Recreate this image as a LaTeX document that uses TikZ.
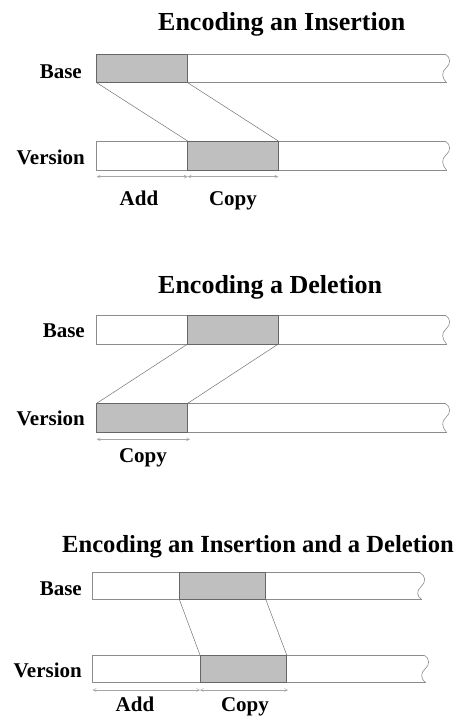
\documentclass[tikz,border=0pt]{standalone}
\usepackage{fontspec}
\setmainfont{Liberation Serif}
\usetikzlibrary{arrows.meta}
\begin{document}
\begin{tikzpicture}[x=1pt,y=-1pt,
  titlelbl/.style={font=\bfseries\fontsize{26}{30}\selectfont, anchor=base west, inner sep=0pt},
  longtitle/.style={font=\bfseries\fontsize{24.6}{29}\selectfont, anchor=base west, inner sep=0pt},
  rowlbl/.style={font=\bfseries\fontsize{21}{25}\selectfont, anchor=base east, inner sep=0pt},
  spanlbl/.style={font=\bfseries\fontsize{21}{25}\selectfont, anchor=base, inner sep=0pt},
  barline/.style={draw=black!45, line width=0.6pt},
  grayblock/.style={fill=black!25, draw=black!60, line width=0.6pt},
  mapline/.style={draw=black!55, line width=0.5pt},
  span/.style={draw=black!35, line width=0.5pt, {Straight Barb[length=3pt,width=3pt]}-{Straight Barb[length=3pt,width=3pt]}}
]
\useasboundingbox (0,0) rectangle (460,716);

% bar: #1 left x, #2 top y, #3 bottom y, #4 right x
\newcommand{\mybar}[4]{%
  \draw[barline] (#4,#2) -- (#1,#2) -- (#1,#3) -- (#4+1.5,#3);
  \draw[barline] (#4,#2) .. controls (#4+6,#2+3) and (#4+6,#2+10) .. (#4+1,#2+14)
     .. controls (#4-4,#2+18) and (#4-3,#2+24) .. (#4+1.5,#3);
}

%% ---------- Panel 1 ----------
\node[titlelbl] (t1) at (158,30) {Encoding an Insertion};
\node[rowlbl] (b1) at (82,78) {Base};
\node[rowlbl] (v1) at (85,164) {Version};
\mybar{96.7}{54}{82.7}{445}
\mybar{96.7}{141}{170}{445}
\filldraw[grayblock] (96.7,54) rectangle (187.7,82.7);
\filldraw[grayblock] (187.7,141) rectangle (278.3,170);
\coordinate (b1a) at (96.7,82.7);
\coordinate (b1b) at (187.7,82.7);
\coordinate (v1a) at (187.7,141);
\coordinate (v1b) at (278.3,141);
\draw[mapline] (b1a) -- (v1a);
\draw[mapline] (b1b) -- (v1b);
\coordinate (s1a) at (96.7,176.7);
\coordinate (s1b) at (187.7,176.7);
\coordinate (s1c) at (278.3,176.7);
\draw[span] (s1a) -- (s1b);
\draw[span] (s1b) -- (s1c);
\node[spanlbl] (add1) at (139,205) {Add};
\node[spanlbl] (copy1) at (233,205) {Copy};

%% ---------- Panel 2 ----------
\node[titlelbl] (t2) at (158,293) {Encoding a Deletion};
\node[rowlbl] (b2) at (85,337) {Base};
\node[rowlbl] (v2) at (85,425) {Version};
\mybar{96.7}{315}{344}{445}
\mybar{96.7}{403.3}{432.3}{445}
\filldraw[grayblock] (187.7,315) rectangle (278.3,344);
\filldraw[grayblock] (96.7,403.3) rectangle (187.7,432.3);
\coordinate (b2a) at (187.7,344);
\coordinate (b2b) at (278.3,344);
\coordinate (v2a) at (96.7,403.3);
\coordinate (v2b) at (187.7,403.3);
\draw[mapline] (b2a) -- (v2a);
\draw[mapline] (b2b) -- (v2b);
\coordinate (s2a) at (96.7,439.3);
\coordinate (s2b) at (190,439.3);
\draw[span] (s2a) -- (s2b);
\node[spanlbl] (copy2) at (143,462) {Copy};

%% ---------- Panel 3 ----------
\node[longtitle] (t3) at (62,552) {Encoding an Insertion and a Deletion};
\node[rowlbl] (b3) at (82,595) {Base};
\node[rowlbl] (v3) at (82,677) {Version};
\mybar{92.7}{572.7}{599.3}{420}
\mybar{92.7}{655}{682.7}{424}
\filldraw[grayblock] (179.3,572.7) rectangle (265.7,599.3);
\filldraw[grayblock] (200,655) rectangle (286.7,682.7);
\coordinate (b3a) at (179.3,599.3);
\coordinate (b3b) at (265.7,599.3);
\coordinate (v3a) at (200,655);
\coordinate (v3b) at (286.7,655);
\draw[mapline] (b3a) -- (v3a);
\draw[mapline] (b3b) -- (v3b);
\coordinate (s3a) at (92.7,690);
\coordinate (s3b) at (200,690);
\coordinate (s3c) at (288,690);
\draw[span] (s3a) -- (s3b);
\draw[span] (s3b) -- (s3c);
\node[spanlbl] (add3) at (135,711.7) {Add};
\node[spanlbl] (copy3) at (245,711.7) {Copy};
\end{tikzpicture}
\end{document}
